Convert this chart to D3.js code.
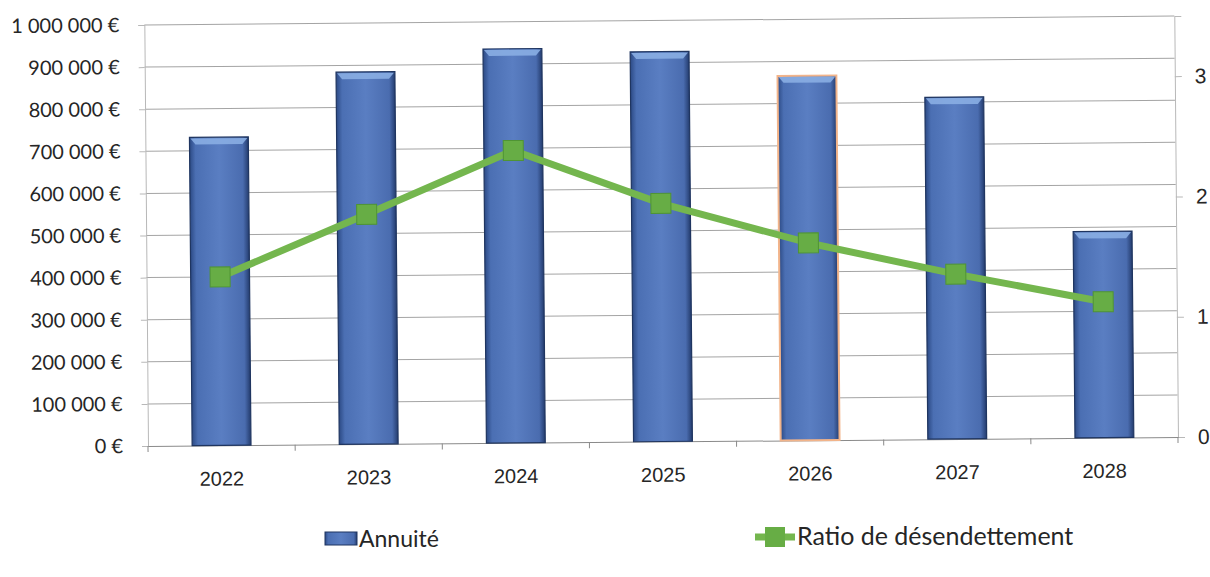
<!DOCTYPE html>
<html>
<head>
<meta charset="utf-8">
<script src="https://cdn.jsdelivr.net/npm/d3@7"></script>
<style>
  html, body { margin: 0; padding: 0; background: #fff; overflow: hidden; }
  svg { display: block; font-family: Lato, "Open Sans", sans-serif; }
</style>
</head>
<body>
<svg id="chart"></svg>
<script>
const years = ['2022', '2023', '2024', '2025', '2026', '2027', '2028'];
const annuite = [732000, 884000, 936000, 926000, 866000, 812000, 490000];
const ratio = [1.40, 1.91, 2.43, 1.98, 1.64, 1.37, 1.13];
const leftTicks = [0, 100000, 200000, 300000, 400000, 500000, 600000, 700000, 800000, 900000, 1000000];
const rightTicks = [0, 1, 2, 3];
const highlightedYear = '2026';

const W = 1210, H = 577;
const margin = { top: 25, right: 32, bottom: 131, left: 148 };
const w = W - margin.left - margin.right;
const h = H - margin.top - margin.bottom;
// the scan is tilted a little: baseline rises ~9px across the plot
const tilt = -0.5;

const svg = d3.select('#chart').attr('width', W).attr('height', H);

const defs = svg.append('defs');
const grad = defs.append('linearGradient').attr('id', 'barGrad')
  .attr('x1', 0).attr('x2', 1).attr('y1', 0).attr('y2', 0);
grad.append('stop').attr('offset', '0%').attr('stop-color', '#2c4a85');
grad.append('stop').attr('offset', '10%').attr('stop-color', '#4b6fb3');
grad.append('stop').attr('offset', '50%').attr('stop-color', '#5a7ec2');
grad.append('stop').attr('offset', '90%').attr('stop-color', '#4a6caf');
grad.append('stop').attr('offset', '100%').attr('stop-color', '#243c6e');

const g = svg.append('g')
  .attr('transform', `rotate(${tilt},${margin.left},${margin.top + h}) translate(${margin.left},${margin.top})`);

const x = d3.scaleBand().domain(years).range([0, w]).paddingInner(0.6).paddingOuter(0.3);
const xCat = d3.scaleBand().domain(years).range([0, w]);
const y = d3.scaleLinear().domain([0, 1000000]).range([h, 0]);
const y2 = d3.scaleLinear().domain([0, 3.5]).range([h, 0]);

// gridlines
g.append('g')
  .selectAll('line')
  .data(leftTicks.slice(1))
  .join('line')
  .attr('x1', 0).attr('x2', w)
  .attr('y1', d => y(d)).attr('y2', d => y(d))
  .attr('stroke', '#a4a4a4').attr('stroke-width', 1);

// left axis
const fmt = d => d3.format(',')(d).replace(/,/g, '\u00a0') + '\u00a0€';
const leftAxis = g.append('g')
  .call(d3.axisLeft(y).tickValues(leftTicks).tickFormat(fmt).tickSize(6).tickPadding(19));
leftAxis.select('.domain').attr('stroke', '#b8b8b8');
leftAxis.selectAll('.tick line').attr('stroke', '#b8b8b8');
leftAxis.selectAll('text').attr('font-size', 20).attr('fill', '#262626')
  .attr('font-family', 'Lato, sans-serif');

// right axis
const rightAxis = g.append('g').attr('transform', `translate(${w},0)`)
  .call(d3.axisRight(y2).tickValues(rightTicks).tickFormat(d3.format('d')).tickSize(7).tickPadding(13));
rightAxis.select('.domain').attr('stroke', '#b8b8b8');
rightAxis.selectAll('.tick line').attr('stroke', '#b8b8b8');
rightAxis.selectAll('text').attr('font-size', 21).attr('fill', '#262626');

// bottom axis
const bottomAxis = g.append('g').attr('transform', `translate(0,${h})`)
  .call(d3.axisBottom(xCat).tickSize(0).tickPadding(26));
bottomAxis.select('.domain').attr('stroke', '#8a8a8a');
bottomAxis.selectAll('text').attr('font-size', 20).attr('fill', '#262626');
bottomAxis.selectAll('.sep')
  .data(years.concat(['end']))
  .join('line')
  .attr('x1', (d, i) => i * xCat.step()).attr('x2', (d, i) => i * xCat.step())
  .attr('y1', 0).attr('y2', 6)
  .attr('stroke', '#8a8a8a');

// bars
const bars = g.append('g').selectAll('g')
  .data(years.map((yr, i) => ({ yr, v: annuite[i] })))
  .join('g');
bars.append('rect')
  .attr('x', d => x(d.yr))
  .attr('y', d => y(d.v))
  .attr('width', x.bandwidth())
  .attr('height', d => h - y(d.v))
  .attr('fill', 'url(#barGrad)')
  .attr('stroke', d => d.yr === highlightedYear ? '#f2b48a' : '#1f3560')
  .attr('stroke-width', d => d.yr === highlightedYear ? 2 : 1.2);
bars.append('path')
  .attr('d', d => {
    const x0 = x(d.yr), x1 = x0 + x.bandwidth(), t = y(d.v);
    return `M${x0 + 1},${t + 1}L${x1 - 1},${t + 1}L${x1 - 6},${t + 7}L${x0 + 6},${t + 7}Z`;
  })
  .attr('fill', '#8aaee3').attr('opacity', 0.9);

// line
const line = d3.line()
  .x((d, i) => x(years[i]) + x.bandwidth() / 2)
  .y(d => y2(d));
g.append('path')
  .datum(ratio)
  .attr('d', line)
  .attr('fill', 'none')
  .attr('stroke', '#74b64e')
  .attr('stroke-width', 7)
  .attr('stroke-linejoin', 'round');
g.append('g').selectAll('rect')
  .data(ratio)
  .join('rect')
  .attr('x', (d, i) => x(years[i]) + x.bandwidth() / 2 - 10)
  .attr('y', d => y2(d) - 10)
  .attr('width', 20).attr('height', 20)
  .attr('fill', '#67ad45')
  .attr('stroke', '#4f9434').attr('stroke-width', 1);

// legend
const leg = svg.append('g');
leg.append('rect').attr('x', 325).attr('y', 532).attr('width', 32).attr('height', 13)
  .attr('fill', 'url(#barGrad)').attr('stroke', '#1f3560');
leg.append('text').attr('x', 359).attr('y', 547).attr('font-size', 23)
  .attr('fill', '#262626').text('Annuité');
leg.append('line').attr('x1', 755).attr('x2', 795).attr('y1', 537).attr('y2', 537)
  .attr('stroke', '#74b64e').attr('stroke-width', 7);
leg.append('rect').attr('x', 765).attr('y', 527).attr('width', 20).attr('height', 20)
  .attr('fill', '#67ad45');
leg.append('text').attr('x', 797).attr('y', 545).attr('font-size', 25)
  .attr('fill', '#262626').text('Ratio de désendettement');
</script>
</body>
</html>
